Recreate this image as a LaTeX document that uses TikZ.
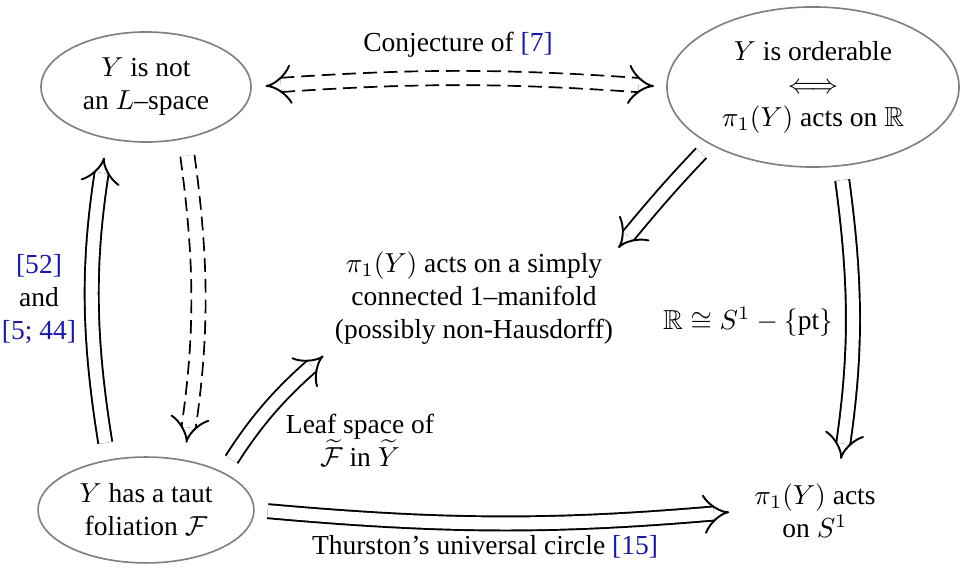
\documentclass[tikz,border=0pt]{standalone}
\usepackage{amssymb}
\usepackage{fontspec}
\setmainfont{Liberation Serif}
\usetikzlibrary{shapes.geometric,arrows.meta}
\definecolor{citeblue}{rgb}{0.1,0.1,0.7}
\newcommand{\cit}[1]{\textcolor{citeblue}{#1}}
\begin{document}
\begin{tikzpicture}[x=0.3636pt,y=-0.3636pt,
  ell/.style={ellipse,draw=gray,line width=0.6pt,align=center,inner sep=0pt},
  txt/.style={align=center,inner sep=4pt},
  lbl/.style={align=center,inner sep=0pt},
  tip/.tip={Implies[length=10pt,width=14pt]},
  imp/.style={line width=0.7pt,double,double distance=4.4pt,-tip},
  dimp/.style={imp,dash pattern=on 5pt off 2.5pt},
  dbi/.style={imp,dash pattern=on 5pt off 2.5pt,tip-tip},
  wht/.style={draw=white,line width=4.4pt},
  ]
\useasboundingbox (0,0) rectangle (966,568);
\node[ell,minimum width=76.4pt,minimum height=40pt] (A) at (146,87) {$Y$ is not\\an $L$--space};
\node[ell,minimum width=106.2pt,minimum height=58.2pt] (B) at (813,87) {$Y$ is orderable\\$\Longleftrightarrow$\\$\pi_1(Y)$ acts on $\mathbb{R}$};
\node[ell,minimum width=78.5pt,minimum height=38.5pt] (C) at (146,510) {$Y$ has a taut\\foliation $\mathcal{F}$};
\node[txt] (M) at (474,298) {$\pi_1(Y)$ acts on a simply\\connected 1--manifold\\(possibly non-Hausdorff)};
\node[txt] (D) at (815,511) {$\pi_1(Y)$ acts\\on $S^1$};

\node[lbl] (l1) at (458,45) {Conjecture of \cit{[7]}};
\node[lbl] (l2) at (39,299) {\cit{[52]}\\and\\\cit{[5; 44]}};
\node[lbl] (l3) at (748,322) {$\mathbb{R}\cong S^1-\{\mathrm{pt}\}$};
\node[lbl] (l4) at (360,440) {Leaf space of\\$\widetilde{\mathcal{F}}$ in $\widetilde{Y}$};
\node[lbl] (l5) at (485,547) {Thurston's universal circle \cit{[15]}};

\draw[dbi,shorten <=5pt,shorten >=4.4pt] (A.east) to[bend left=4] (B.west);
\draw[wht,shorten <=11pt,shorten >=10.4pt] (A.east) to[bend left=4] (B.west);
\draw[imp,shorten <=6.2pt,shorten >=6.9pt] (C.127) to[bend left=9] (A.-127);
\draw[dimp,shorten <=6.2pt,shorten >=6.2pt] (A.-53) to[bend left=8] (C.53);
\draw[wht,shorten <=6.2pt,shorten >=12.2pt] (A.-53) to[bend left=8] (C.53);
\draw[imp,shorten <=5.5pt] (C.26) to[bend left=8] (M.south west);
\draw[imp,shorten <=4.4pt,shorten >=-3.6pt] (B.209) to[bend right=2] (M.north east);
\draw[imp,shorten <=5pt,shorten >=5pt] (B.-71) to[bend left=8] (D.58);
\draw[imp,shorten <=4.7pt,shorten >=5pt] (C.east) to[bend right=5] (D.west);
\end{tikzpicture}
\end{document}
